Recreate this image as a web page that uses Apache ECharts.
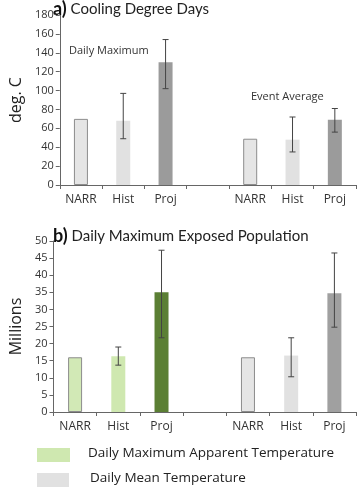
<!DOCTYPE html>
<html>
<head>
<meta charset="utf-8">
<script src="https://cdn.jsdelivr.net/npm/echarts@6/dist/echarts.min.js"></script>
<style>
  html, body { margin: 0; padding: 0; background: #fff; }
  #chart { width: 357px; height: 492px; }
</style>
</head>
<body>
<div id="chart"></div>
<script>
// categories (slot 3 is the gap between the two groups)
const categories = ['NARR', 'Hist', 'Proj', '', 'NARR', 'Hist', 'Proj'];

// a) cooling degree days
const cddValues = [70, 68, 130, null, 49, 48, 69];
const cddLow = [null, 49, 102, null, null, 35, 56];
const cddHigh = [null, 97, 154, null, null, 72, 81];
const cddTicks = { min: 0, max: 180, interval: 20 };

// b) daily maximum exposed population (millions)
const popValues = [16, 16.3, 35, null, 16, 16.5, 34.7];
const popLow = [null, 13.7, 21.7, null, null, 10.3, 24.8];
const popHigh = [null, 19, 47.3, null, null, 21.7, 46.5];
const popTicks = { min: 0, max: 50, interval: 5 };

const legendNames = ['Daily Maximum Apparent Temperature', 'Daily Mean Temperature'];

// styling per slot
const cddColors = ['#e5e5e5', '#e1e1e1', '#9b9b9b', null, '#e5e5e5', '#e1e1e1', '#9b9b9b'];
const popColors = ['#d2e9b6', '#cfe8b0', '#5b7f34', null, '#e5e5e5', '#e1e1e1', '#a0a0a0'];
const outlined = [true, false, false, false, true, false, false];

const font = 'Open Sans';
const titleFont = 'Lato';
const axisGray = '#666';

const barData = (vals, colors) => vals.map((v, i) => v == null ? '-' : {
  value: v,
  itemStyle: {
    color: colors[i],
    borderColor: outlined[i] ? '#8c8c8c' : colors[i],
    borderWidth: outlined[i] ? 1 : 0
  }
});

const errData = (lo, hi) => lo.map((l, i) => l == null ? null : [i, l, hi[i]]).filter(d => d);

const errRender = (params, api) => {
  const top = api.coord([api.value(0), api.value(2)]);
  const bot = api.coord([api.value(0), api.value(1)]);
  const cap = 3;
  const style = { stroke: '#444', lineWidth: 1 };
  return {
    type: 'group',
    children: [
      { type: 'line', shape: { x1: top[0], y1: top[1], x2: bot[0], y2: bot[1] }, style },
      { type: 'line', shape: { x1: top[0] - cap, y1: top[1], x2: top[0] + cap, y2: top[1] }, style },
      { type: 'line', shape: { x1: bot[0] - cap, y1: bot[1], x2: bot[0] + cap, y2: bot[1] }, style }
    ]
  };
};

const xAxisBase = (gridIndex) => ({
  type: 'category',
  gridIndex,
  data: categories,
  boundaryGap: true,
  axisLine: { lineStyle: { color: axisGray, width: 1 } },
  axisTick: { show: true, alignWithLabel: false, length: 4, lineStyle: { color: axisGray } },
  axisLabel: { color: '#333', fontSize: 12, fontFamily: font, margin: 9, interval: 0 }
});

const yAxisBase = (gridIndex, ticks, name) => ({
  type: 'value',
  gridIndex,
  min: ticks.min,
  max: ticks.max,
  interval: ticks.interval,
  name,
  nameLocation: 'middle',
  nameGap: 29,
  nameTextStyle: { color: '#222', fontSize: 16, fontFamily: font },
  splitLine: { show: false },
  axisLine: { show: true, lineStyle: { color: axisGray, width: 1 } },
  axisTick: { show: true, length: 4, lineStyle: { color: axisGray } },
  axisLabel: { color: '#333', fontSize: 11, fontFamily: font, margin: 6 }
});

const titleStyle = {
  fontFamily: titleFont, fontSize: 15, fontWeight: 'normal', color: '#222',
  rich: { b: { fontFamily: titleFont, fontSize: 18, fontWeight: 'bold', color: '#111' } }
};

const chart = echarts.init(document.getElementById('chart'), null, { renderer: 'canvas' });

chart.setOption({
  backgroundColor: '#fff',
  animation: false,
  title: [
    { text: '{b|a)} Cooling Degree Days', left: 53, top: 0, padding: 0, textStyle: titleStyle },
    { text: '{b|b)} Daily Maximum Exposed Population', left: 53, top: 227, padding: 0, textStyle: titleStyle }
  ],
  grid: [
    { left: 48, right: 1, top: 15, height: 170 },
    { left: 48, right: 1, top: 241, height: 171 }
  ],
  xAxis: [xAxisBase(0), xAxisBase(1)],
  yAxis: [yAxisBase(0, cddTicks, 'deg. C'), yAxisBase(1, popTicks, 'Millions')],
  series: [
    {
      type: 'bar', xAxisIndex: 0, yAxisIndex: 0, barWidth: 14,
      data: barData(cddValues, cddColors)
    },
    {
      type: 'custom', xAxisIndex: 0, yAxisIndex: 0,
      renderItem: errRender, encode: { x: 0, y: [1, 2] }, z: 5,
      data: errData(cddLow, cddHigh)
    },
    {
      type: 'bar', xAxisIndex: 1, yAxisIndex: 1, barWidth: 14,
      data: barData(popValues, popColors)
    },
    {
      type: 'custom', xAxisIndex: 1, yAxisIndex: 1,
      renderItem: errRender, encode: { x: 0, y: [1, 2] }, z: 5,
      data: errData(popLow, popHigh)
    }
  ],
  graphic: [
    { type: 'text', left: 69, top: 45, style: { text: 'Daily Maximum', fontFamily: font, fontSize: 11, fill: '#333' } },
    { type: 'text', left: 251, top: 91, style: { text: 'Event Average', fontFamily: font, fontSize: 11, fill: '#333' } },
    { type: 'rect', shape: { x: 37, y: 448, width: 33, height: 14 }, style: { fill: popColors[1] } },
    { type: 'text', left: 88, top: 446, style: { text: legendNames[0], fontFamily: font, fontSize: 13.5, fill: '#222' } },
    { type: 'rect', shape: { x: 37, y: 473, width: 32, height: 14 }, style: { fill: '#e1e1e1' } },
    { type: 'text', left: 90, top: 471, style: { text: legendNames[1], fontFamily: font, fontSize: 13.5, fill: '#222' } }
  ]
});
</script>
</body>
</html>
